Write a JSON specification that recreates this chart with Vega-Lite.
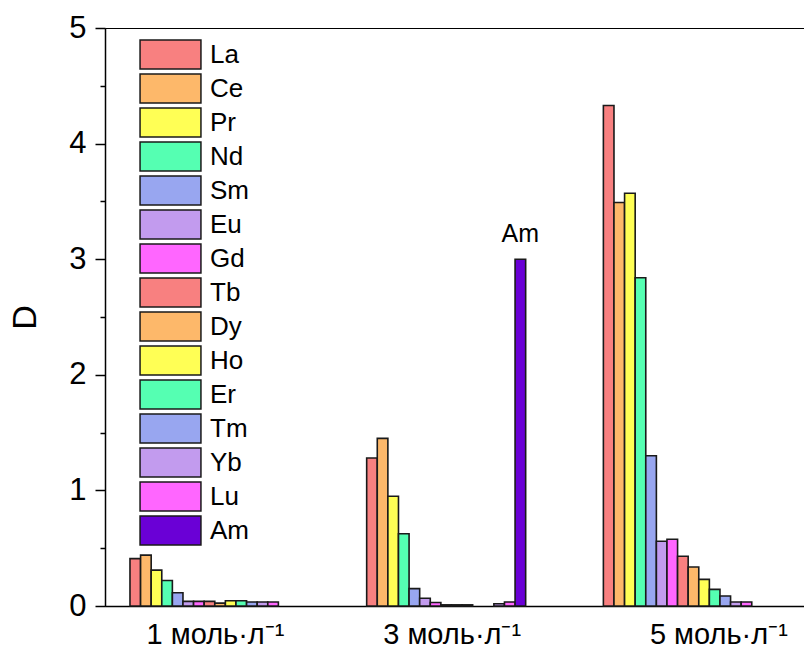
{
  "$schema": "https://vega.github.io/schema/vega-lite/v6.json",
  "width": 699,
  "height": 578,
  "autosize": "none",
  "padding": {"left": 105, "top": 28, "right": 0, "bottom": 46},
  "background": "white",
  "config": {
    "view": {"stroke": "black", "strokeWidth": 1},
    "font": "Liberation Sans"
  },
  "data": {
    "values": [
      {"c": "1 моль·л⁻¹", "el": "La", "D": 0.41},
      {"c": "1 моль·л⁻¹", "el": "Ce", "D": 0.44},
      {"c": "1 моль·л⁻¹", "el": "Pr", "D": 0.31},
      {"c": "1 моль·л⁻¹", "el": "Nd", "D": 0.22},
      {"c": "1 моль·л⁻¹", "el": "Sm", "D": 0.115},
      {"c": "1 моль·л⁻¹", "el": "Eu", "D": 0.04},
      {"c": "1 моль·л⁻¹", "el": "Gd", "D": 0.04},
      {"c": "1 моль·л⁻¹", "el": "Tb", "D": 0.04},
      {"c": "1 моль·л⁻¹", "el": "Dy", "D": 0.025},
      {"c": "1 моль·л⁻¹", "el": "Ho", "D": 0.045},
      {"c": "1 моль·л⁻¹", "el": "Er", "D": 0.045},
      {"c": "1 моль·л⁻¹", "el": "Tm", "D": 0.035},
      {"c": "1 моль·л⁻¹", "el": "Yb", "D": 0.035},
      {"c": "1 моль·л⁻¹", "el": "Lu", "D": 0.035},
      {"c": "3 моль·л⁻¹", "el": "La", "D": 1.28},
      {"c": "3 моль·л⁻¹", "el": "Ce", "D": 1.45},
      {"c": "3 моль·л⁻¹", "el": "Pr", "D": 0.95},
      {"c": "3 моль·л⁻¹", "el": "Nd", "D": 0.625},
      {"c": "3 моль·л⁻¹", "el": "Sm", "D": 0.15},
      {"c": "3 моль·л⁻¹", "el": "Eu", "D": 0.067},
      {"c": "3 моль·л⁻¹", "el": "Gd", "D": 0.03},
      {"c": "3 моль·л⁻¹", "el": "Tb", "D": 0.01},
      {"c": "3 моль·л⁻¹", "el": "Dy", "D": 0.01},
      {"c": "3 моль·л⁻¹", "el": "Ho", "D": 0.01},
      {"c": "3 моль·л⁻¹", "el": "Yb", "D": 0.02},
      {"c": "3 моль·л⁻¹", "el": "Lu", "D": 0.035},
      {"c": "3 моль·л⁻¹", "el": "Am", "D": 3.0},
      {"c": "5 моль·л⁻¹", "el": "La", "D": 4.33},
      {"c": "5 моль·л⁻¹", "el": "Ce", "D": 3.49},
      {"c": "5 моль·л⁻¹", "el": "Pr", "D": 3.57},
      {"c": "5 моль·л⁻¹", "el": "Nd", "D": 2.84},
      {"c": "5 моль·л⁻¹", "el": "Sm", "D": 1.3},
      {"c": "5 моль·л⁻¹", "el": "Eu", "D": 0.56},
      {"c": "5 моль·л⁻¹", "el": "Gd", "D": 0.577},
      {"c": "5 моль·л⁻¹", "el": "Tb", "D": 0.43},
      {"c": "5 моль·л⁻¹", "el": "Dy", "D": 0.337},
      {"c": "5 моль·л⁻¹", "el": "Ho", "D": 0.23},
      {"c": "5 моль·л⁻¹", "el": "Er", "D": 0.144},
      {"c": "5 моль·л⁻¹", "el": "Tm", "D": 0.087},
      {"c": "5 моль·л⁻¹", "el": "Yb", "D": 0.035},
      {"c": "5 моль·л⁻¹", "el": "Lu", "D": 0.035}
    ]
  },
  "layer": [
    {
      "mark": {"type": "bar", "stroke": "#1a1a1a", "strokeWidth": 1.6},
      "encoding": {
        "x": {
          "field": "c", "type": "nominal", "sort": null, "title": null,
          "scale": {"paddingInner": 0.3283, "paddingOuter": 0.1407, "align": 0.375},
          "axis": {
            "ticks": false,
            "labelAngle": 0,
            "labelFontSize": 29,
            "labelColor": "black",
            "labelPadding": 14,
            "labelOffset": {"condition": {"test": "datum.value == '5 моль·л⁻¹'", "value": 36}, "value": 6},
            "domainColor": "black",
            "domainWidth": 1.5
          }
        },
        "xOffset": {
          "field": "el", "type": "nominal",
          "scale": {"domain": ["La","Ce","Pr","Nd","Sm","Eu","Gd","Tb","Dy","Ho","Er","Tm","Yb","Lu","Am"], "paddingInner": 0, "paddingOuter": 0}
        },
        "y": {
          "field": "D", "type": "quantitative", "title": "D",
          "scale": {"domain": [0, 5], "nice": false},
          "axis": {
            "values": [0, 0.5, 1, 1.5, 2, 2.5, 3, 3.5, 4, 4.5, 5],
            "labelExpr": "datum.value % 1 === 0 ? format(datum.value, 'd') : ''",
            "tickSize": {"condition": {"test": "datum.value % 1 !== 0", "value": 5}, "value": 10},
            "tickColor": "black",
            "tickWidth": 1.5,
            "domainColor": "black",
            "domainWidth": 1.5,
            "grid": false,
            "labelFontSize": 31,
            "labelColor": "black",
            "labelPadding": 9,
            "titleFontSize": 34,
            "titleFontWeight": "normal",
            "titleColor": "black",
            "titlePadding": 26
          }
        },
        "color": {
          "field": "el", "type": "nominal",
          "scale": {
            "domain": ["La","Ce","Pr","Nd","Sm","Eu","Gd","Tb","Dy","Ho","Er","Tm","Yb","Lu","Am"],
            "range": ["#F88080","#FDB86A","#FFFF55","#55FFB2","#98A6F0","#C29BEE","#FF66FF","#F88080","#FDB86A","#FFFF55","#55FFB2","#98A6F0","#C29BEE","#FF66FF","#6A00D6"]
          },
          "legend": {
            "orient": "none",
            "legendX": 50,
            "legendY": 11,
            "title": null,
            "padding": 0,
            "symbolType": "M-2.1,-1H2.1V1H-2.1Z",
            "symbolSize": 841,
            "symbolStrokeColor": "#1a1a1a",
            "symbolStrokeWidth": 1.5,
            "symbolOpacity": 1,
            "labelFontSize": 26,
            "labelColor": "black",
            "labelOffset": 24,
            "rowPadding": -1
          }
        }
      }
    },
    {
      "transform": [{"filter": "datum.el == 'Am'"}],
      "mark": {"type": "text", "dy": -17, "baseline": "alphabetic", "fontSize": 25, "color": "black"},
      "encoding": {
        "x": {"field": "c", "type": "nominal", "sort": null},
        "xOffset": {"field": "el", "type": "nominal"},
        "y": {"field": "D", "type": "quantitative"},
        "text": {"field": "el"}
      }
    }
  ]
}
